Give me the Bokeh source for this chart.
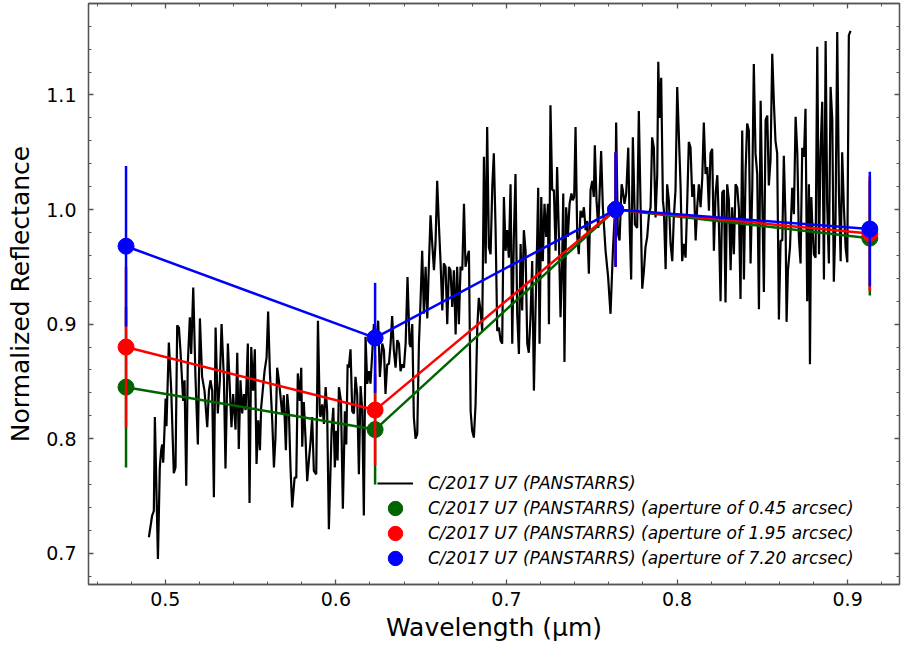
from bokeh.plotting import figure
from bokeh.models import Range1d, LinearAxis, Legend, LegendItem, FixedTicker
from bokeh.embed import file_html
from bokeh.resources import INLINE

# ---- spectrum of C/2017 U7 (PANSTARRS) ----
wl_a = [0.4904, 0.4923, 0.4933, 0.4939, 0.4957, 0.4968, 0.4976, 0.4982, 0.4988, 0.4996,
        0.5002, 0.5007, 0.5021, 0.5035, 0.5050, 0.5060, 0.5070, 0.5080, 0.5089, 0.5105,
        0.5113, 0.5123, 0.5132, 0.5144, 0.5152, 0.5164, 0.5177, 0.5191, 0.5203, 0.5216,
        0.5230, 0.5246, 0.5256, 0.5265, 0.5275, 0.5285, 0.5295, 0.5308, 0.5320, 0.5330,
        0.5344, 0.5353, 0.5367, 0.5379, 0.5388, 0.5398, 0.5412, 0.5422, 0.5431, 0.5441,
        0.5451, 0.5461, 0.5471, 0.5484, 0.5494, 0.5504, 0.5515, 0.5525, 0.5535, 0.5545,
        0.5555, 0.5562, 0.5582, 0.5594, 0.5603, 0.5613, 0.5627, 0.5637, 0.5646, 0.5656,
        0.5666, 0.5676, 0.5685, 0.5695, 0.5707, 0.5715, 0.5725, 0.5734, 0.5744, 0.5758,
        0.5768, 0.5777, 0.5789, 0.5797, 0.5803, 0.5812, 0.5822, 0.5832, 0.5842, 0.5852,
        0.5861, 0.5871, 0.5885, 0.5895, 0.5906]
refl_a = [0.714, 0.733, 0.737, 0.819, 0.695, 0.775, 0.790, 0.795, 0.779, 0.810,
          0.835, 0.811, 0.884, 0.842, 0.770, 0.775, 0.899, 0.897, 0.877, 0.833,
          0.851, 0.759, 0.865, 0.906, 0.874, 0.932, 0.854, 0.795, 0.905, 0.854,
          0.842, 0.810, 0.842, 0.851, 0.842, 0.749, 0.897, 0.822, 0.851, 0.900,
          0.851, 0.774, 0.883, 0.842, 0.810, 0.839, 0.808, 0.875, 0.791, 0.851,
          0.822, 0.839, 0.825, 0.883, 0.744, 0.880, 0.842, 0.878, 0.778, 0.816,
          0.790, 0.827, 0.859, 0.871, 0.911, 0.859, 0.816, 0.775, 0.801, 0.862,
          0.851, 0.836, 0.822, 0.838, 0.790, 0.839, 0.822, 0.775, 0.740, 0.766,
          0.766, 0.857, 0.833, 0.862, 0.793, 0.832, 0.801, 0.763, 0.781, 0.798,
          0.819, 0.772, 0.769, 0.903, 0.822]

wl_b = [0.5910, 0.5920, 0.5930, 0.5940, 0.5949, 0.5959, 0.5975, 0.5985, 0.5994, 0.6002,
        0.6010, 0.6018, 0.6030, 0.6041, 0.6053, 0.6061, 0.6069, 0.6076, 0.6086, 0.6096,
        0.6106, 0.6115, 0.6125, 0.6135, 0.6145, 0.6155, 0.6164, 0.6174, 0.6184, 0.6194,
        0.6203, 0.6213, 0.6223, 0.6237, 0.6248, 0.6258, 0.6272, 0.6282, 0.6291, 0.6301,
        0.6311, 0.6321, 0.6330, 0.6340, 0.6350, 0.6360, 0.6370, 0.6379, 0.6389, 0.6399,
        0.6409, 0.6420, 0.6432, 0.6438, 0.6448, 0.6457, 0.6467, 0.6477, 0.6487, 0.6496,
        0.6506, 0.6516, 0.6526, 0.6536, 0.6545, 0.6555, 0.6565, 0.6575, 0.6584, 0.6594,
        0.6604, 0.6614, 0.6624, 0.6633, 0.6643, 0.6653, 0.6663, 0.6672, 0.6682, 0.6692,
        0.6702, 0.6711, 0.6721, 0.6731, 0.6741, 0.6751, 0.6760, 0.6770, 0.6780, 0.6790,
        0.6799, 0.6809, 0.6819, 0.6829, 0.6838, 0.6848, 0.6858, 0.6868, 0.6878, 0.6887,
        0.6897, 0.6907, 0.6917, 0.6926, 0.6936, 0.6946]
refl_b = [0.819, 0.830, 0.813, 0.845, 0.824, 0.721, 0.807, 0.827, 0.775, 0.807,
          0.781, 0.845, 0.833, 0.739, 0.824, 0.795, 0.865, 0.862, 0.878, 0.824,
          0.822, 0.854, 0.839, 0.769, 0.846, 0.824, 0.733, 0.889, 0.848, 0.859,
          0.848, 0.874, 0.900, 0.883, 0.903, 0.854, 0.883, 0.877, 0.839, 0.865,
          0.865, 0.883, 0.907, 0.877, 0.862, 0.886, 0.883, 0.859, 0.865, 0.862,
          0.883, 0.941, 0.883, 0.880, 0.900, 0.819, 0.800, 0.804, 0.883, 0.918,
          0.964, 0.909, 0.950, 0.905, 0.950, 0.995, 0.970, 0.947, 0.970, 1.025,
          0.987, 0.953, 0.912, 0.953, 0.950, 0.900, 0.950, 0.947, 0.915, 0.947,
          0.891, 0.950, 0.900, 0.950, 0.947, 1.005, 0.950, 0.958, 0.964, 0.824,
          0.807, 0.801, 0.830, 0.897, 0.923, 0.912, 0.894, 1.046, 0.953, 1.072,
          0.967, 0.961, 1.020, 1.049, 0.985, 0.894]

wl_c = [0.6956, 0.6965, 0.6975, 0.6985, 0.6995, 0.7004, 0.7014, 0.7024, 0.7034, 0.7043,
        0.7053, 0.7063, 0.7073, 0.7083, 0.7092, 0.7102, 0.7112, 0.7122, 0.7131, 0.7141,
        0.7151, 0.7161, 0.7170, 0.7180, 0.7186, 0.7194, 0.7204, 0.7213, 0.7223, 0.7233,
        0.7243, 0.7249, 0.7258, 0.7268, 0.7278, 0.7288, 0.7297, 0.7307, 0.7317, 0.7327,
        0.7333, 0.7340, 0.7350, 0.7360, 0.7370, 0.7381, 0.7389, 0.7397, 0.7405, 0.7415,
        0.7424, 0.7434, 0.7444, 0.7454, 0.7464, 0.7473, 0.7483, 0.7493, 0.7503, 0.7512,
        0.7518, 0.7528, 0.7538, 0.7546, 0.7555, 0.7565, 0.7581, 0.7596, 0.7610, 0.7624,
        0.7639, 0.7643, 0.7653, 0.7663, 0.7675, 0.7682, 0.7692, 0.7702, 0.7714, 0.7723,
        0.7731, 0.7741, 0.7753, 0.7766, 0.7776, 0.7786, 0.7796, 0.7806, 0.7815, 0.7825,
        0.7835, 0.7845, 0.7854, 0.7864, 0.7874, 0.7884, 0.7890, 0.7897, 0.7907, 0.7917,
        0.7923, 0.7933, 0.7942, 0.7952, 0.7962, 0.7972, 0.7981, 0.7991, 0.8001]
refl_c = [0.897, 0.886, 0.883, 1.011, 0.964, 0.982, 0.958, 1.022, 0.883, 0.973,
          1.031, 0.909, 0.874, 0.970, 0.912, 0.982, 0.964, 0.883, 0.875, 0.906,
          0.955, 0.842, 0.909, 0.973, 1.019, 0.883, 1.011, 0.955, 1.005, 0.976,
          1.005, 0.900, 1.091, 1.017, 1.017, 0.964, 1.037, 0.979, 0.906, 0.958,
          1.014, 0.867, 1.002, 0.976, 1.005, 1.014, 1.008, 1.011, 1.072, 0.976,
          0.961, 0.999, 0.993, 1.002, 0.982, 0.990, 0.944, 1.017, 1.025, 1.011,
          1.056, 1.008, 0.984, 1.014, 1.051, 1.002, 0.964, 0.941, 0.909, 0.964,
          1.008, 1.076, 0.979, 0.973, 1.022, 1.017, 1.005, 1.014, 1.054, 0.982,
          0.939, 1.063, 0.987, 0.984, 1.086, 1.005, 0.931, 0.947, 0.967, 0.976,
          0.995, 1.002, 1.063, 1.054, 0.993, 1.031, 1.129, 1.080, 1.115, 1.008,
          0.999, 0.948, 1.022, 1.008, 0.970, 0.955, 0.993, 1.017, 1.107]

wl_d = [0.8021, 0.8030, 0.8040, 0.8050, 0.8060, 0.8069, 0.8079, 0.8089, 0.8099, 0.8109,
        0.8118, 0.8128, 0.8138, 0.8148, 0.8157, 0.8167, 0.8177, 0.8187, 0.8196, 0.8206,
        0.8216, 0.8226, 0.8236, 0.8245, 0.8255, 0.8265, 0.8275, 0.8284, 0.8294, 0.8304,
        0.8314, 0.8323, 0.8333, 0.8343, 0.8353, 0.8363, 0.8372, 0.8382, 0.8392, 0.8402,
        0.8411, 0.8421, 0.8431, 0.8441, 0.8450, 0.8460, 0.8470, 0.8480, 0.8490, 0.8499,
        0.8509, 0.8519, 0.8529, 0.8538, 0.8548, 0.8558, 0.8568, 0.8577, 0.8587, 0.8597,
        0.8607, 0.8617, 0.8626, 0.8636, 0.8642, 0.8650, 0.8662, 0.8675, 0.8685, 0.8695,
        0.8705, 0.8714, 0.8724, 0.8734, 0.8744, 0.8753, 0.8763, 0.8773, 0.8779, 0.8787,
        0.8792, 0.8802, 0.8812, 0.8822, 0.8832, 0.8841, 0.8851, 0.8861, 0.8871, 0.8880,
        0.8890, 0.8900, 0.8910, 0.8919, 0.8929, 0.8939, 0.8949, 0.8959, 0.8968, 0.8978,
        0.8988, 0.8998, 0.9007, 0.9017]
refl_d = [1.019, 0.955, 0.970, 0.958, 1.008, 1.059, 1.054, 1.011, 1.022, 0.973,
          1.002, 1.022, 1.002, 1.028, 1.076, 1.031, 1.037, 0.999, 1.049, 1.053,
          0.964, 1.014, 1.030, 0.990, 0.920, 1.015, 1.017, 0.919, 1.022, 1.008,
          0.947, 1.002, 0.961, 1.022, 1.019, 0.999, 0.922, 1.069, 0.939, 1.034,
          1.075, 1.069, 0.953, 1.019, 1.127, 1.049, 1.031, 0.913, 1.095, 1.014,
          0.928, 1.078, 1.082, 1.021, 1.043, 1.136, 1.092, 1.060, 1.049, 0.904,
          0.973, 0.973, 1.047, 0.990, 0.902, 0.947, 0.967, 1.019, 0.996, 1.081,
          1.049, 0.976, 0.953, 1.054, 1.046, 1.088, 0.920, 1.022, 0.865, 1.011,
          0.990, 0.961, 0.958, 1.142, 0.961, 1.049, 1.094, 0.939, 1.147, 1.005,
          0.953, 1.107, 1.078, 0.937, 0.990, 1.155, 1.014, 0.955, 1.050, 1.002,
          0.967, 0.954, 1.152, 1.156]

# ---- photometric points (three apertures) ----
bands = [0.477, 0.623, 0.764, 0.913]
refl_045 = [0.845, 0.808, 1.000, 0.975]
refl_195 = [0.880, 0.825, 1.000, 0.979]
refl_720 = [0.968, 0.888, 1.000, 0.983]
err_phot = [0.070, 0.048, 0.050, 0.050]

x_tick_values = [0.5, 0.6, 0.7, 0.8, 0.9]
x_tick_labels = ["0.5", "0.6", "0.7", "0.8", "0.9"]
y_tick_values = [0.7, 0.8, 0.9, 1.0, 1.1]
y_tick_labels = ["0.7", "0.8", "0.9", "1.0", "1.1"]

legend_labels = ["C/2017 U7 (PANSTARRS)",
                 "C/2017 U7 (PANSTARRS) (aperture of 0.45 arcsec)",
                 "C/2017 U7 (PANSTARRS) (aperture of 1.95 arcsec)",
                 "C/2017 U7 (PANSTARRS) (aperture of 7.20 arcsec)"]

wl = wl_a + wl_b + wl_c + wl_d
refl = refl_a + refl_b + refl_c + refl_d

FONT = "DejaVu Sans"
AX = "#555555"

p = figure(width=901, height=646, output_backend="svg", toolbar_location=None,
           x_range=Range1d(0.455, 0.9304), y_range=Range1d(0.6728, 1.1798),
           min_border_left=88, min_border_right=2, min_border_top=3, min_border_bottom=62,
           x_axis_label="Wavelength (μm)", y_axis_label="Normalized Reflectance")
p.grid.visible = False
p.outline_line_color = AX
p.outline_line_width = 1.3
p.background_fill_color = "white"
p.border_fill_color = "white"

x_minor = [round(0.46 + 0.02 * i, 2) for i in range(24)]
y_minor = [round(0.68 + 0.02 * i, 2) for i in range(25)]
xt = FixedTicker(ticks=x_tick_values, minor_ticks=x_minor)
yt = FixedTicker(ticks=y_tick_values, minor_ticks=y_minor)


def style_axis(ax):
    ax.major_tick_in = 5
    ax.major_tick_out = 0
    ax.minor_tick_in = 3
    ax.minor_tick_out = 0
    ax.axis_line_color = AX
    ax.axis_line_width = 1.3
    ax.major_tick_line_color = AX
    ax.minor_tick_line_color = AX
    ax.major_tick_line_width = 1.3
    ax.minor_tick_line_width = 1.0
    ax.major_label_text_font = FONT
    ax.major_label_text_font_size = "19px"
    ax.major_label_text_color = "black"
    ax.axis_label_text_font = FONT
    ax.axis_label_text_font_style = "normal"
    ax.axis_label_text_color = "black"


xa = p.xaxis[0]
ya = p.yaxis[0]
xa.ticker = xt
ya.ticker = yt
style_axis(xa)
style_axis(ya)
xa.axis_label_text_font_size = "25px"
ya.axis_label_text_font_size = "25px"
xa.major_label_overrides = {v: s for v, s in zip(x_tick_values, x_tick_labels)}
ya.major_label_overrides = {v: s for v, s in zip(y_tick_values, y_tick_labels)}
xa.major_label_standoff = 7
xa.axis_label_standoff = 4
ya.major_label_standoff = 12
ya.axis_label_standoff = 8

# tick marks only on the top and right edges
for loc, tk in (("above", xt), ("right", yt)):
    ax = LinearAxis(ticker=tk)
    style_axis(ax)
    ax.major_label_text_font_size = "0px"
    ax.major_label_standoff = 0
    p.add_layout(ax, loc)

spec = p.line(wl, refl, line_color="black", line_width=2.2)

renderers = [spec]
for vals, col in ((refl_045, "#006400"), (refl_195, "#ff0000"), (refl_720, "#0000ff")):
    lo = [v - e for v, e in zip(vals, err_phot)]
    hi = [v + e for v, e in zip(vals, err_phot)]
    p.segment(x0=bands, y0=lo, x1=bands, y1=hi, line_color=col, line_width=2.5)
    p.line(bands, vals, line_color=col, line_width=2.5)
    r = p.scatter(bands, vals, size=16, fill_color=col, line_color=col, marker="circle")
    renderers.append(r)

# one legend per row so that the rows sit 25 px apart with full-size markers
for i, (lab, r) in enumerate(zip(legend_labels, renderers)):
    lg = Legend(items=[LegendItem(label=lab, renderers=[r])],
                location=(289, 83 - 25 * i), glyph_width=36, glyph_height=36,
                label_height=36, spacing=0, padding=0, margin=0,
                border_line_alpha=0, background_fill_alpha=0,
                label_text_font=FONT, label_text_font_style="italic",
                label_text_color="black",
                label_text_font_size="17px", label_standoff=15)
    p.add_layout(lg)

open("out.html", "w").write(file_html(p, INLINE))
